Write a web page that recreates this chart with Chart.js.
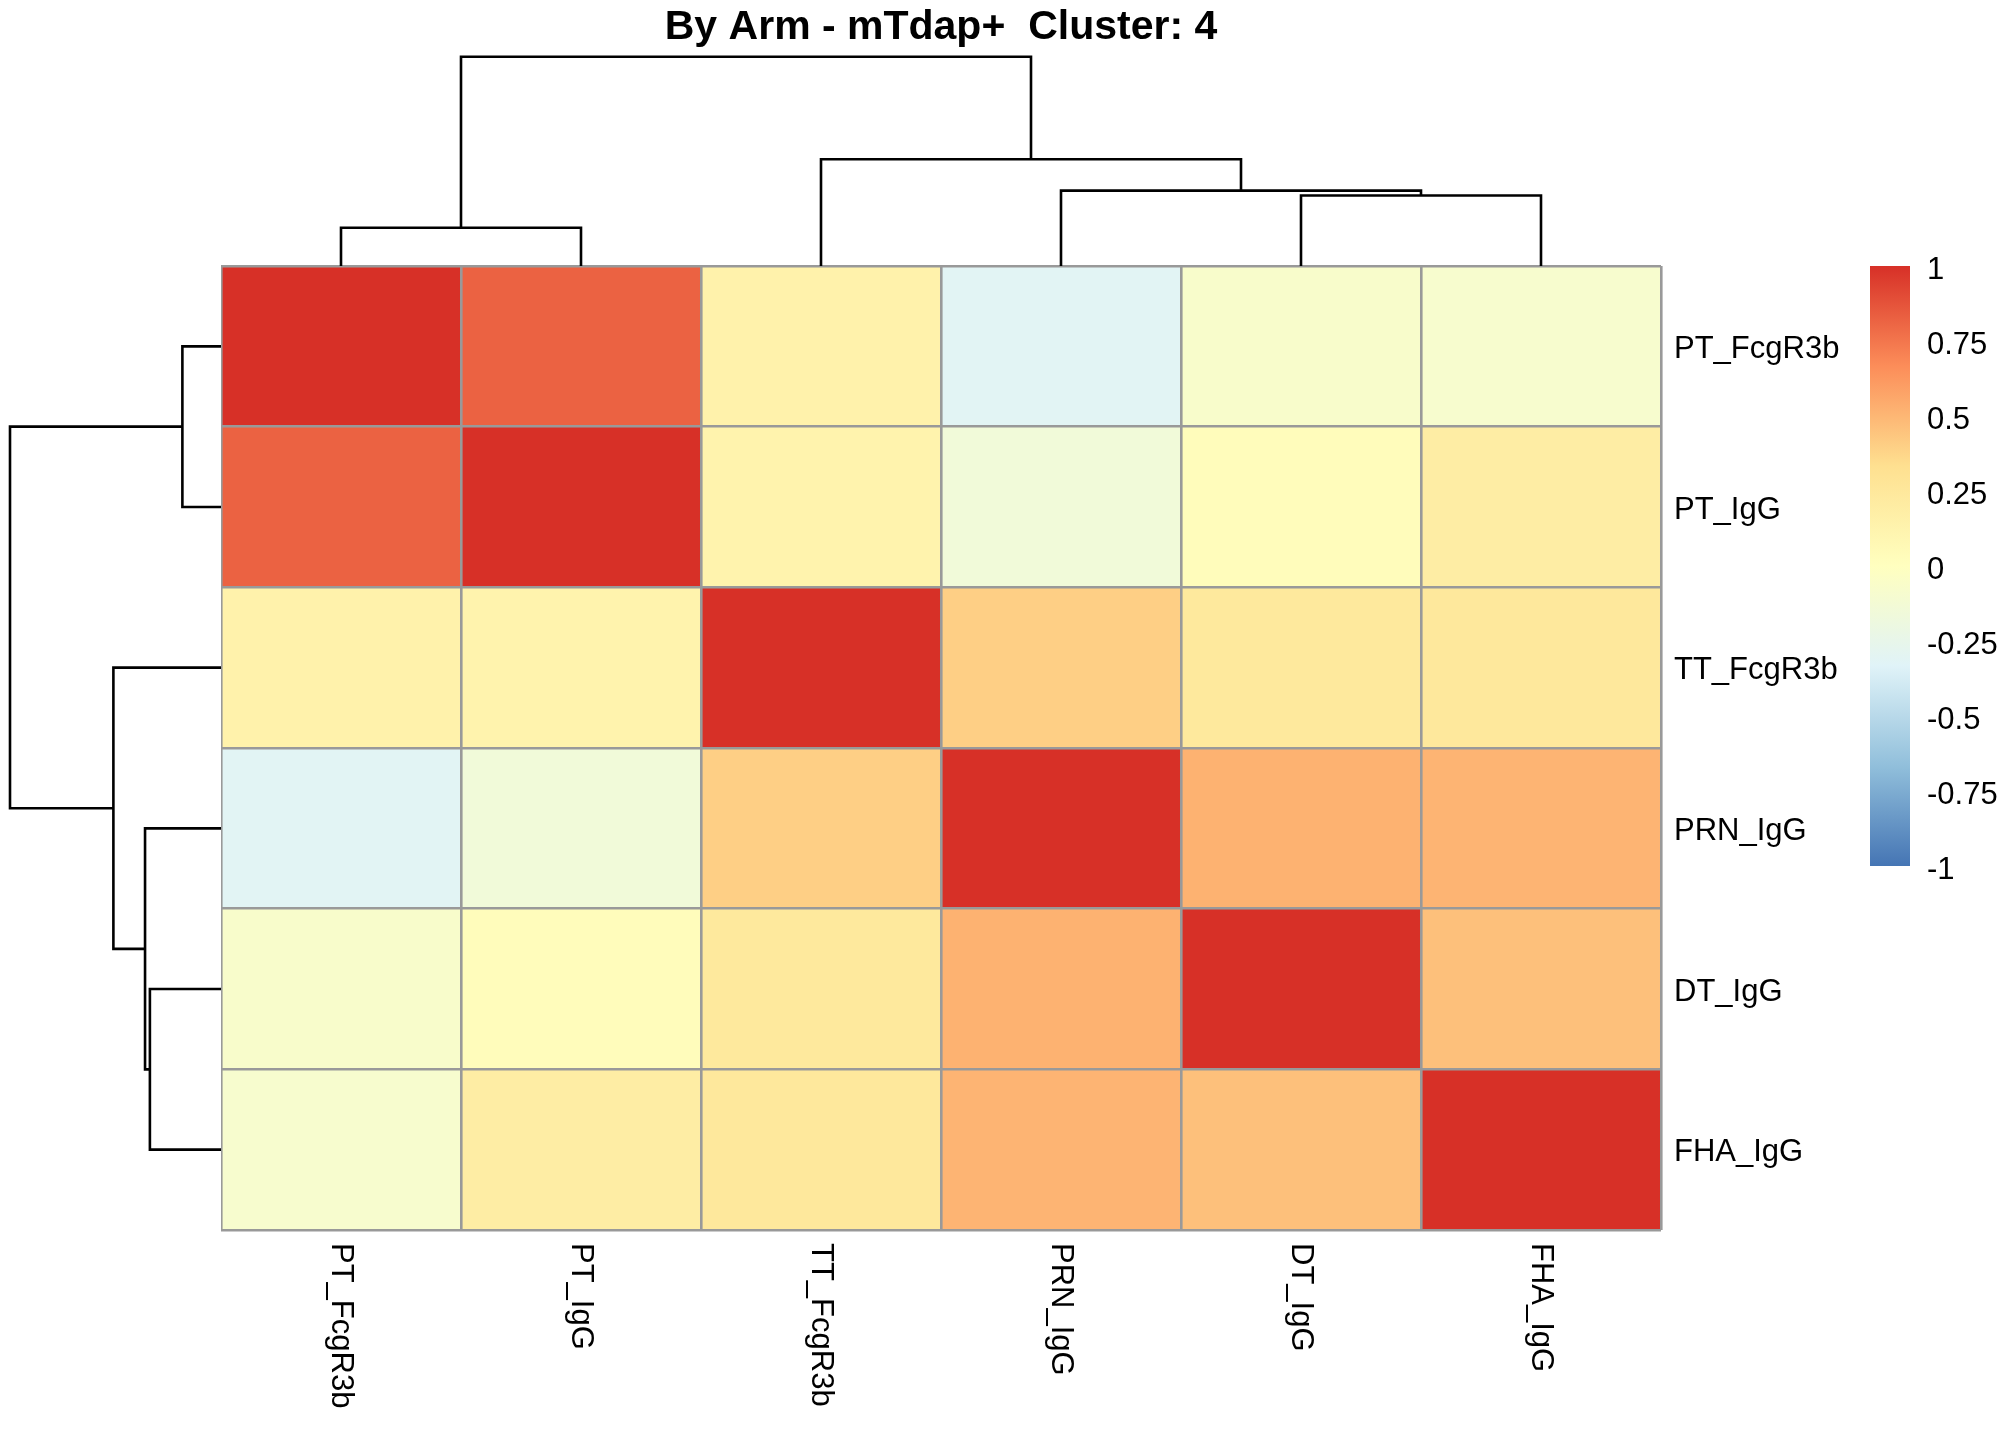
<html><head>
    <meta charset="UTF-8">
    <title>By Arm - mTdap+  Cluster: 4</title>
    <script src="https://cdn.jsdelivr.net/npm/chart.js"></script>
    <style>
        body {
            margin: 0;
            padding: 0;
            background-color: #fff;
        }
        .page {
            position: relative;
            width: 2016px;
            height: 1440px;
            background-color: #fff;
        }
        canvas {
            position: absolute;
        }
        #heatmap { left: 221px; top: 226px; }
        #colDendro { left: 221px; top: 0px; }
        #rowDendro { left: 0px; top: 266px; }
        #colorKey { left: 1870px; top: 226px; }
    </style>
</head>
<body>
    <div class="page">
        <canvas id="heatmap" width="1640" height="1214"></canvas>
        <canvas id="colDendro" width="1440" height="268"></canvas>
        <canvas id="rowDendro" width="222" height="964"></canvas>
        <canvas id="colorKey" width="146" height="680"></canvas>
    </div>
    <script>
        // Variables, in clustered order (same for rows and columns)
        const variables = ['PT_FcgR3b', 'PT_IgG', 'TT_FcgR3b', 'PRN_IgG', 'DT_IgG', 'FHA_IgG'];

        // Correlation matrix, one row per variable
        const rowPT_FcgR3b = [1.00, 0.82, 0.14, -0.31, -0.07, -0.09];
        const rowPT_IgG    = [0.82, 1.00, 0.13, -0.15, 0.03, 0.19];
        const rowTT_FcgR3b = [0.14, 0.13, 1.00, 0.40, 0.24, 0.25];
        const rowPRN_IgG   = [-0.31, -0.15, 0.40, 1.00, 0.52, 0.51];
        const rowDT_IgG    = [-0.07, 0.03, 0.24, 0.52, 1.00, 0.46];
        const rowFHA_IgG   = [-0.09, 0.19, 0.25, 0.51, 0.46, 1.00];
        const corr = [rowPT_FcgR3b, rowPT_IgG, rowTT_FcgR3b, rowPRN_IgG, rowDT_IgG, rowFHA_IgG];

        // Dendrogram (hclust style: negative = leaf, positive = earlier merge)
        const mergePairs = [[-1, -2], [-5, -6], [-4, 2], [-3, 3], [1, 4]];
        const mergeHeights = [0.183, 0.337, 0.36, 0.51, 1.0];

        // Colour key
        const keyTicks = [-1, -0.75, -0.5, -0.25, 0, 0.25, 0.5, 0.75, 1];
        const paletteStops = ['#4575B4', '#91BFDB', '#E0F3F8', '#FFFFBF', '#FEE090', '#FC8D59', '#D73027'];

        const FONT = '"Liberation Sans", Arial, Helvetica, sans-serif';
        Chart.defaults.font.family = FONT;
        Chart.defaults.color = '#000';
        Chart.defaults.animation = false;
        Chart.defaults.events = [];
        Chart.defaults.plugins.legend.display = false;
        Chart.defaults.plugins.tooltip.enabled = false;

        function hexToRgb(h) {
            return [1, 3, 5].map(i => parseInt(h.substr(i, 2), 16));
        }
        function colorFor(v) {
            const t = Math.min(Math.max((v + 1) / 2, 0), 1) * (paletteStops.length - 1);
            const i = Math.min(Math.floor(t), paletteStops.length - 2);
            const f = t - i;
            const a = hexToRgb(paletteStops[i]), b = hexToRgb(paletteStops[i + 1]);
            const c = a.map((x, k) => Math.round(x + (b[k] - x) * f));
            return `rgb(${c[0]},${c[1]},${c[2]})`;
        }

        // Column labels, rotated to read downwards under each column
        const columnLabels = {
            id: 'columnLabels',
            afterDraw(chart) {
                const {ctx, chartArea, scales} = chart;
                ctx.save();
                ctx.fillStyle = '#000';
                ctx.font = '31px ' + FONT;
                ctx.textAlign = 'left';
                ctx.textBaseline = 'middle';
                variables.forEach((name, j) => {
                    ctx.save();
                    ctx.translate(scales.x.getPixelForValue(j + 0.5), chartArea.bottom + 13);
                    ctx.rotate(Math.PI / 2);
                    ctx.fillText(name, 0, 0);
                    ctx.restore();
                });
                ctx.restore();
            }
        };

        // Heatmap: one stacked dataset per column
        new Chart(document.getElementById('heatmap'), {
            type: 'bar',
            data: {
                labels: variables,
                datasets: variables.map((name, j) => ({
                    label: name,
                    data: variables.map(() => 1),
                    backgroundColor: corr.map(row => colorFor(row[j])),
                    borderWidth: 0,
                    barPercentage: 1,
                    categoryPercentage: 1
                }))
            },
            options: {
                indexAxis: 'y',
                responsive: false,
                layout: { padding: { top: 40, bottom: 210, left: 0, right: 0 } },
                scales: {
                    x: {
                        type: 'linear',
                        stacked: true,
                        min: 0,
                        max: 6,
                        ticks: { display: false, stepSize: 1 },
                        grid: { z: 1, color: '#999999', lineWidth: 2.6, drawTicks: false },
                        border: { display: false }
                    },
                    y: {
                        stacked: true,
                        position: 'right',
                        grid: { z: 1, offset: true, color: '#999999', lineWidth: 2.6, drawTicks: false },
                        border: { display: false },
                        ticks: { font: { size: 31 }, color: '#000', padding: 13, labelOffset: 3 },
                        afterFit: s => { s.width = 200; }
                    }
                }
            },
            plugins: [columnLabels]
        });

        // Dendrogram segments in data units (position along the axis, merge height)
        function dendroSegments() {
            const pos = [], hgt = [];
            const nodePos = k => k < 0 ? (-k - 1) + 0.5 : pos[k - 1];
            const nodeH = k => k < 0 ? 0 : hgt[k - 1];
            return mergePairs.map(([a, b], i) => {
                const pa = nodePos(a), pb = nodePos(b), h = mergeHeights[i];
                pos.push((pa + pb) / 2);
                hgt.push(h);
                return [[pa, nodeH(a)], [pa, h], [pb, h], [pb, nodeH(b)]];
            });
        }
        const segments = dendroSegments();
        const lineStyle = {
            showLine: true,
            pointRadius: 0,
            borderColor: '#000',
            borderWidth: 2.6,
            tension: 0,
            clip: false
        };
        const hidden = { display: false };

        // Column dendrogram + title
        new Chart(document.getElementById('colDendro'), {
            type: 'scatter',
            data: {
                datasets: segments.map(seg => Object.assign({
                    data: seg.map(([p, h]) => ({ x: p, y: h }))
                }, lineStyle))
            },
            options: {
                responsive: false,
                layout: { padding: { top: 0, bottom: 2, left: 0, right: 0 } },
                plugins: {
                    title: {
                        display: true,
                        text: 'By Arm - mTdap+  Cluster: 4',
                        color: '#000',
                        font: { size: 41, weight: 'bold', lineHeight: 1 },
                        padding: { top: 7, bottom: 8.7 }
                    }
                },
                scales: {
                    x: Object.assign({ type: 'linear', min: 0, max: 6 }, hidden),
                    y: Object.assign({ type: 'linear', min: 0, max: 1 }, hidden)
                }
            }
        });

        // Row dendrogram
        new Chart(document.getElementById('rowDendro'), {
            type: 'scatter',
            data: {
                datasets: segments.map(seg => Object.assign({
                    data: seg.map(([p, h]) => ({ x: h, y: p }))
                }, lineStyle))
            },
            options: {
                responsive: false,
                layout: { padding: { top: 0, bottom: 0, left: 10, right: 1 } },
                scales: {
                    x: Object.assign({ type: 'linear', min: 0, max: 1, reverse: true }, hidden),
                    y: Object.assign({ type: 'linear', min: 0, max: 6, reverse: true }, hidden)
                }
            }
        });

        // Colour key
        new Chart(document.getElementById('colorKey'), {
            type: 'bar',
            data: {
                labels: ['key'],
                datasets: [{
                    data: [[keyTicks[0], keyTicks[keyTicks.length - 1]]],
                    barPercentage: 1,
                    categoryPercentage: 1,
                    borderWidth: 0,
                    backgroundColor: c => {
                        const {ctx, chartArea, scales} = c.chart;
                        if (!chartArea) return paletteStops[3];
                        const g = ctx.createLinearGradient(0, scales.y.getPixelForValue(-1), 0, scales.y.getPixelForValue(1));
                        paletteStops.forEach((col, i) => g.addColorStop(i / (paletteStops.length - 1), col));
                        return g;
                    }
                }]
            },
            options: {
                responsive: false,
                layout: { padding: { top: 40, bottom: 40, left: 0, right: 0 } },
                scales: {
                    x: hidden,
                    y: {
                        type: 'linear',
                        position: 'right',
                        min: -1,
                        max: 1,
                        grid: { display: false, drawTicks: false },
                        border: { display: false },
                        afterBuildTicks: s => { s.ticks = keyTicks.map(v => ({ value: v })); },
                        ticks: { font: { size: 31 }, color: '#000', padding: 17, labelOffset: 4, callback: v => String(v) },
                        afterFit: s => { s.width = 106; }
                    }
                }
            }
        });
    </script>
</body></html>
